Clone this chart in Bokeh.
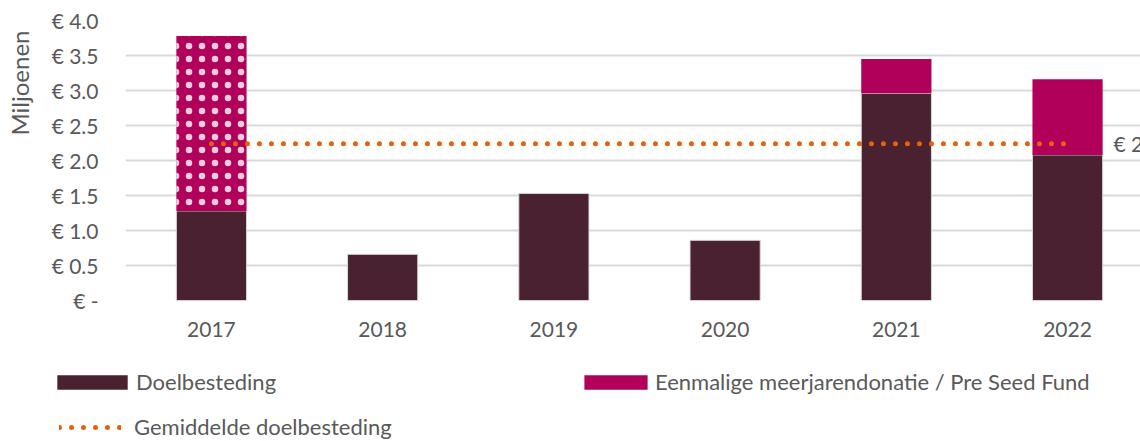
from bokeh.plotting import figure
from bokeh.models import (Range1d, FixedTicker, Legend, LegendItem, Label,
                          ColumnDataSource, Title)
from bokeh.embed import file_html
from bokeh.resources import INLINE

# ---- data ----
years = ["2017", "2018", "2019", "2020", "2021", "2022"]
doelbesteding = [1.28, 0.66, 1.53, 0.86, 2.96, 2.08]
pre_seed = [2.50, 0.0, 0.0, 0.0, 0.49, 1.08]
patterned_years = ["2017"]
gemiddelde = 2.24
gemiddelde_label = "€ 2.2"
y_ticks = [0, 0.5, 1.0, 1.5, 2.0, 2.5, 3.0, 3.5, 4.0]
y_tick_labels = ["€ -", "€ 0.5", "€ 1.0", "€ 1.5", "€ 2.0", "€ 2.5", "€ 3.0", "€ 3.5", "€ 4.0"]
label_doel = "Doelbesteding"
label_pre = "Eenmalige meerjarendonatie / Pre Seed Fund"
label_avg = "Gemiddelde doelbesteding"
y_title = "Miljoenen"

FONT = "Lato"
FS = "21px"
FS_LEG = "22px"
TXT = "#595959"
DARK = "#4A2131"
MAG = "#B0005A"
ORANGE = "#E8600A"
W = 1140
H_MAIN = 350
H_LEG = 91

xs = list(range(len(years)))

src_doel = ColumnDataSource(dict(x=xs, top=doelbesteding))
pat_x, pat_b, pat_t, sol_x, sol_b, sol_t = [], [], [], [], [], []
for i, (y, d, s) in enumerate(zip(years, doelbesteding, pre_seed)):
    if s <= 0:
        continue
    if y in patterned_years:
        pat_x.append(i); pat_b.append(d); pat_t.append(d + s)
    else:
        sol_x.append(i); sol_b.append(d); sol_t.append(d + s)
src_pat = ColumnDataSource(dict(x=pat_x, bottom=pat_b, top=pat_t))
src_sol = ColumnDataSource(dict(x=sol_x, bottom=sol_b, top=sol_t))
src_avg = ColumnDataSource(dict(x=xs, y=[gemiddelde] * len(xs)))

p = figure(width=W, height=H_MAIN,
           x_range=Range1d(-0.502, 5.426), y_range=Range1d(0, 4),
           output_backend="svg", toolbar_location=None,
           min_border_left=125, min_border_right=0,
           min_border_top=20, min_border_bottom=50)
p.outline_line_color = None
p.xgrid.visible = False
p.ygrid.grid_line_color = "#d9d9d9"
p.ygrid.grid_line_width = 2

BW = 0.41
bar_doel = dict(fill_color=DARK, line_color="#d9d9d9", line_width=1)
bar_pre = dict(fill_color=MAG, line_color=None)
avg_style = dict(line_color=ORANGE, line_width=5, line_dash="0 12", line_cap="round")

p.vbar(x="x", top="top", bottom=0, width=BW, source=src_doel, **bar_doel)
p.vbar(x="x", top="top", bottom="bottom", width=BW, source=src_pat,
       hatch_pattern="dot", hatch_color="white", hatch_scale=13,
       hatch_alpha=0.8, **bar_pre)
p.vbar(x="x", top="top", bottom="bottom", width=BW, source=src_sol, **bar_pre)
p.line(x="x", y="y", source=src_avg, **avg_style)

# axes
p.yaxis.ticker = FixedTicker(ticks=y_ticks)
p.yaxis.major_label_overrides = {t: l for t, l in zip(y_ticks, y_tick_labels)}
p.xaxis.ticker = FixedTicker(ticks=xs)
p.xaxis.major_label_overrides = {i: y for i, y in enumerate(years)}
for ax in (p.xaxis, p.yaxis):
    ax.axis_line_color = None
    ax.major_tick_line_color = None
    ax.minor_tick_line_color = None
    ax.major_tick_out = 0
    ax.major_tick_in = 0
    ax.major_label_text_font = FONT
    ax.major_label_text_font_size = FS
    ax.major_label_text_color = TXT
p.yaxis.major_label_standoff = 27
p.xaxis.major_label_standoff = 21
# blank spacer label to push the side title outward
p.yaxis.axis_label = "\u00a0"
p.yaxis.axis_label_text_font_size = "11px"
p.yaxis.axis_label_standoff = 0

p.add_layout(Title(text=y_title, align="right", offset=10, standoff=0,
                   text_font=FONT, text_font_size="24px",
                   text_font_style="normal", text_color=TXT), "left")

p.add_layout(Label(x=xs[-1], y=gemiddelde, x_offset=46, text=gemiddelde_label,
                   text_baseline="middle", text_font=FONT, text_font_size=FS,
                   text_color=TXT))

# ---- legend strip (separate root so its frame is not aligned) ----
lf = figure(width=W, height=H_LEG, x_range=Range1d(0, 1), y_range=Range1d(0, 1),
            output_backend="svg", toolbar_location=None,
            x_axis_location=None, y_axis_location=None,
            min_border=0, min_border_left=0, min_border_right=0,
            min_border_top=0, min_border_bottom=0)
lf.outline_line_color = None
lf.xgrid.visible = False
lf.ygrid.visible = False
offscreen = dict(x=[-10, -9], top=[-10, -9], bottom=[-11, -10])
l_doel = lf.vbar(x="x", top="top", bottom="bottom", width=0.1,
                 source=ColumnDataSource(offscreen), fill_color=DARK, line_color=None)
l_pre = lf.vbar(x="x", top="top", bottom="bottom", width=0.1,
                source=ColumnDataSource(offscreen), **bar_pre)
l_avg = lf.line(x="x", y="top", source=ColumnDataSource(offscreen), **avg_style)

def mk_legend(item, loc, gw, gh, standoff):
    lg = Legend(items=[item], location=loc, orientation="horizontal",
                glyph_width=gw, glyph_height=gh, label_standoff=standoff,
                padding=0, margin=0, spacing=0, border_line_color=None,
                background_fill_alpha=0, label_height=20,
                label_text_font=FONT, label_text_font_size=FS_LEG,
                label_text_color=TXT, label_text_baseline="middle")
    lf.add_layout(lg)

mk_legend(LegendItem(label=label_doel, renderers=[l_doel]), (48, 46), 88, 18, 0)
mk_legend(LegendItem(label=label_pre, renderers=[l_pre]), (576, 46), 79, 18, 0)
mk_legend(LegendItem(label=label_avg, renderers=[l_avg]), (59, 1), 62, 18, 13)

html = file_html((p, lf), INLINE)
html = html.replace("<body>", "<body style=\"margin:0\">", 1)
open("out.html", "w").write(html)
